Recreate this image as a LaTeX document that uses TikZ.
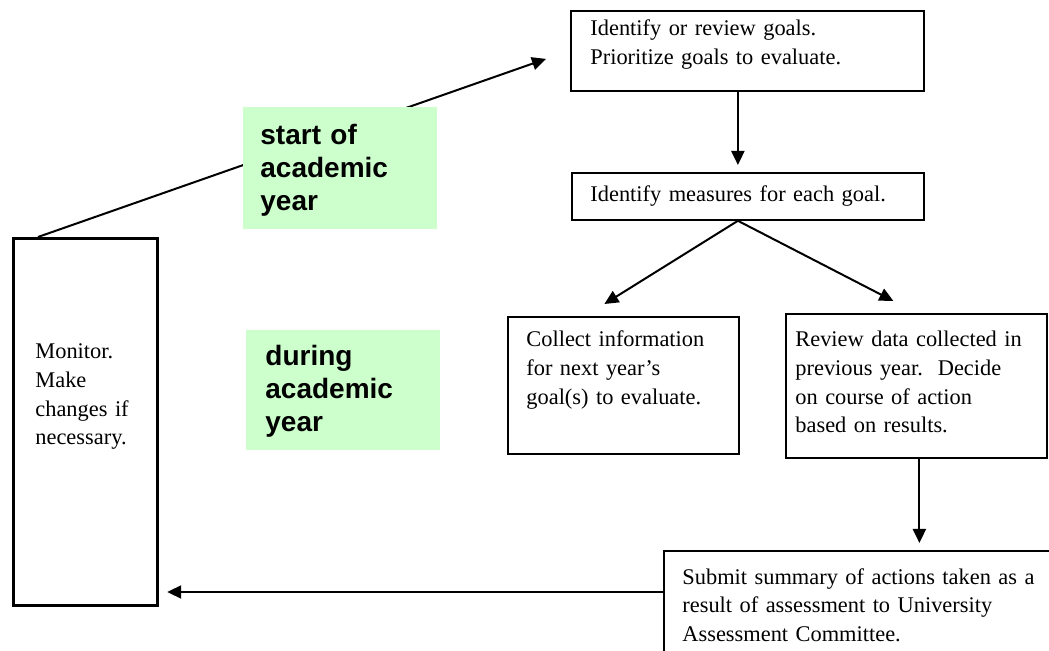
\documentclass[tikz,border=0pt]{standalone}
\usepackage{fontspec}
\setmainfont{Liberation Serif}
\newfontfamily\phasefont{Liberation Sans}
\usetikzlibrary{arrows.meta,calc}
\definecolor{palegreen}{RGB}{204,255,204}

\tikzset{
  stepbox/.style={draw, line width=0.9pt, anchor=north west, inner sep=0pt},
  steptext/.style={anchor=base west, inner sep=0pt, align=left, text width=#1,
    font=\fontsize{11.2}{14.3}\selectfont},
  phasebox/.style={fill=palegreen, anchor=north west, inner sep=0pt},
  phasetext/.style={anchor=base west, inner sep=0pt, align=left, text width=75pt,
    font=\fontsize{14}{16.5}\selectfont\phasefont\bfseries},
  flow/.style={line width=1pt, -{Triangle[length=7pt,width=6.5pt]}}
}

\begin{document}
\begin{tikzpicture}[x=0.5pt, y=-0.5pt]
  \useasboundingbox (0,0) rectangle (1049,651);
  \clip (0,0) rectangle (1049,651);
  % steps of the cycle
  \node[stepbox, minimum width=176.5pt, minimum height=40pt] (goals) at (570,10) {};
  \node[stepbox, minimum width=176pt, minimum height=23.5pt] (measures) at (571,172) {};
  \node[stepbox, minimum width=115.5pt, minimum height=68.5pt] (collect) at (507,316) {};
  \node[stepbox, minimum width=130.5pt, minimum height=72pt] (review) at (785,313) {};
  \node[stepbox, minimum width=250pt, minimum height=100pt] (summary) at (663,550) {};
  \node[stepbox, line width=1.6pt, minimum width=72pt, minimum height=183.5pt] (monitor) at (12,237) {};
  % their texts
  \node[steptext=160pt] (goalsText) at ($(goals.north west)+(20,26)$)
    {Identify or review goals.\\Prioritize goals to evaluate.};
  \node[steptext=160pt] (measuresText) at ($(measures.north west)+(19,30)$)
    {Identify measures for each goal.};
  \node[steptext=104pt] (collectText) at ($(collect.north west)+(19,31)$)
    {Collect information\\for next year’s\\goal(s) to evaluate.};
  \node[steptext=125pt] (reviewText) at ($(review.north west)+(10,34)$)
    {Review data collected in\\previous year.\ \ Decide\\on course of action\\based on results.};
  \node[steptext=185pt] (summaryText) at ($(summary.north west)+(19,34)$)
    {Submit summary of actions taken as a\\result of assessment to University\\Assessment Committee.};
  \node[steptext=60pt] (monitorText) at ($(monitor.north west)+(23,122)$)
    {Monitor.\\Make\\changes if\\necessary.};
  % arrows
  \coordinate (fork) at ($(measures.south)+(-10,0)$);
  \coordinate (collectIn) at ($(collect.north)+(-19,-12)$);
  \coordinate (reviewIn) at ($(review.north)+(-23,-12)$);
  \coordinate (drop) at ($(review.south)+(3,0)$);
  \coordinate (back) at ($(summary.north west)+(0,42)$);
  \coordinate (yearStart) at ($(monitor.north west)+(26,0)$);
  \coordinate (goalsIn) at ($(goals.west)+(-24,8)$);
  \draw[flow, shorten >=3.5pt] (goals.south -| fork) -- (measures.north -| fork);
  \draw[flow] (fork) -- (collectIn);
  \draw[flow] (fork) -- (reviewIn);
  \draw[flow, shorten >=3.5pt] (drop) -- (drop |- summary.north);
  \draw[flow, shorten >=4pt] (back) -- (back -| monitor.east);
  \draw[flow] (yearStart) -- (goalsIn);
  % phases of the year
  \node[phasebox, minimum width=97pt, minimum height=61pt] (startPhase) at (243,107) {};
  \node[phasebox, minimum width=97pt, minimum height=60pt] (duringPhase) at (246,330) {};
  \node[phasetext] (startText) at ($(startPhase.north west)+(17,38)$)
    {start of\\academic\\year};
  \node[phasetext] (duringText) at ($(duringPhase.north west)+(19,36)$)
    {during\\academic\\year};
\end{tikzpicture}
\end{document}
